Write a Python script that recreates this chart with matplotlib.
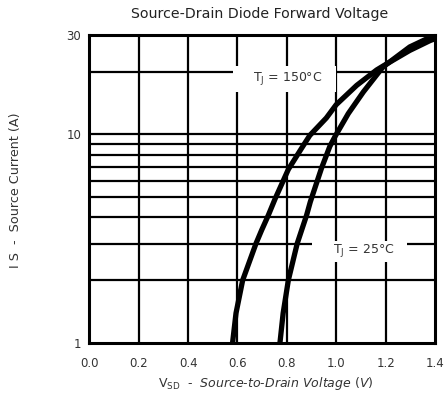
import matplotlib as mpl
mpl.use('Agg')
import matplotlib.pyplot as plt
from matplotlib.patches import Rectangle

plt.rcParams['font.family'] = ['DejaVu Sans']
plt.rcParams['mathtext.fontset'] = 'custom'
plt.rcParams['mathtext.rm'] = 'DejaVu Sans'
plt.rcParams['mathtext.it'] = 'DejaVu Sans:italic'
plt.rcParams['mathtext.default'] = 'regular'

# curves
v_150 = [0.58, 0.594, 0.621, 0.675, 0.698, 0.725, 0.752, 0.806, 0.86, 0.893, 0.96, 1.0,
         1.083, 1.164, 1.19, 1.298, 1.38, 1.4]
i_150 = [1.0, 1.39, 2.0, 3.0, 3.48, 4.1, 4.9, 6.8, 8.6, 9.9, 12.0, 13.9,
         17.2, 20.4, 21.3, 25.3, 28.2, 28.8]

v_25 = [0.772, 0.785, 0.806, 0.842, 0.86, 0.88, 0.895, 0.94, 0.974, 0.995, 1.049, 1.11,
        1.164, 1.19, 1.298, 1.4]
i_25 = [1.0, 1.39, 2.0, 3.0, 3.48, 4.1, 4.75, 6.87, 8.76, 9.77, 12.6, 16.0,
        19.3, 21.1, 26.3, 30.0]

x_ticks = [0.0, 0.2, 0.4, 0.6, 0.8, 1.0, 1.2, 1.4]
y_ticks = [1, 10, 30]
y_grid = [2, 3, 4, 5, 6, 7, 8, 9, 10, 20]

txt = '#333333'

fig = plt.figure(figsize=(4.47, 4.0), dpi=100)
ax = fig.add_axes([0.2, 0.1425, 0.773, 0.77])

ax.set_yscale('log')
ax.set_xlim(0, 1.4)
ax.set_ylim(1, 30)

# grid
for y in y_grid:
    ax.axhline(y, color='black', lw=1.6, zorder=1)
for x in x_ticks[1:-1]:
    ax.axvline(x, color='black', lw=1.6, zorder=1)

ax.plot(v_150, i_150, color='black', lw=3.8, zorder=4)
ax.plot(v_25, i_25, color='black', lw=3.8, zorder=4)

# white label backgrounds that break the grid
ax.add_patch(Rectangle((0.582, 16.0), 0.418, 5.3, facecolor='white', edgecolor='none', zorder=2))
ax.add_patch(Rectangle((0.90, 2.45), 0.385, 0.62, facecolor='white', edgecolor='none', zorder=2))
ax.text(0.804, 18.5, 'T$_J$ = 150°C', fontsize=9, color=txt, ha='center', va='center', zorder=3)
ax.text(1.11, 2.78, 'T$_J$ = 25°C', fontsize=9, color=txt, ha='center', va='center', zorder=3)

ax.set_xticks(x_ticks)
ax.set_xticklabels(['%.1f' % x for x in x_ticks])
ax.set_yticks(y_ticks)
ax.set_yticklabels([str(y) for y in y_ticks])
ax.yaxis.set_minor_locator(mpl.ticker.NullLocator())
ax.tick_params(length=0, labelsize=8.5, labelcolor=txt)
ax.tick_params(axis='x', pad=10)
ax.tick_params(axis='y', pad=6)

for s in ax.spines.values():
    s.set_linewidth(2.2)
    s.set_zorder(5)

fig.text(0.58, 0.966, 'Source-Drain Diode Forward Voltage', fontsize=10.2, color='#222222', ha='center', va='center')
fig.text(0.595, 0.02, 'V$_{SD}$  -  $\\it{Source}$-$\\it{to}$-$\\it{Drain\\ Voltage\\ (V)}$', fontsize=9, color=txt,
         ha='center', va='bottom')
fig.text(0.035, 0.525, 'I S  -  Source Current (A)', fontsize=9.2, color=txt, rotation=90, ha='center', va='center')

fig.savefig('out.png', dpi=100)
